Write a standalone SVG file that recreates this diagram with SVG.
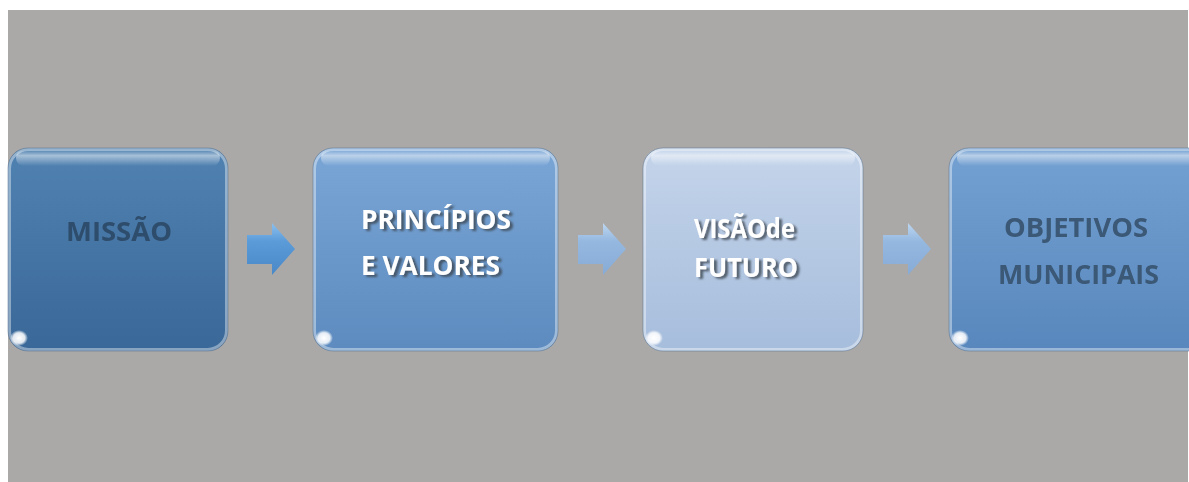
<svg xmlns="http://www.w3.org/2000/svg" width="1189" height="482" viewBox="0 0 1189 482">
<defs>
<style>
.lbl{font-family:"Open Sans","Noto Sans","Liberation Sans",sans-serif;font-weight:bold;font-size:26.5px}
.dark{fill:#2f4d6c}
.dark2{fill:#3b5876}
.wht{fill:#ffffff}
.edge{fill:none;stroke:#ffffff;stroke-opacity:0.4;stroke-width:3}
.outl{fill:none;stroke:#55708c;stroke-opacity:0.5;stroke-width:1}
</style>
<linearGradient id="g1" x1="0" y1="0" x2="0" y2="1">
<stop offset="0" stop-color="#5082b1"/><stop offset="1" stop-color="#3a6898"/>
</linearGradient>
<linearGradient id="g2" x1="0" y1="0" x2="0" y2="1">
<stop offset="0" stop-color="#7aa6d6"/><stop offset="1" stop-color="#5d8bbf"/>
</linearGradient>
<linearGradient id="g3" x1="0" y1="0" x2="0" y2="1">
<stop offset="0" stop-color="#c4d4ea"/><stop offset="1" stop-color="#a6bddc"/>
</linearGradient>
<linearGradient id="g4" x1="0" y1="0" x2="0" y2="1">
<stop offset="0" stop-color="#74a1d2"/><stop offset="1" stop-color="#5887bd"/>
</linearGradient>
<linearGradient id="hl" x1="0" y1="0" x2="0" y2="1">
<stop offset="0" stop-color="#ffffff" stop-opacity="0"/><stop offset="0.35" stop-color="#ffffff" stop-opacity="0.5"/><stop offset="1" stop-color="#ffffff" stop-opacity="0"/>
</linearGradient>
<linearGradient id="ga1" x1="0" y1="0" x2="0" y2="1">
<stop offset="0" stop-color="#8cc0ee"/><stop offset="0.35" stop-color="#5b9bd8"/><stop offset="1" stop-color="#4a88c8"/>
</linearGradient>
<linearGradient id="ga2" x1="0" y1="0" x2="0" y2="1">
<stop offset="0" stop-color="#bdd6f0"/><stop offset="0.35" stop-color="#95b8e0"/><stop offset="1" stop-color="#86abd6"/>
</linearGradient>
<radialGradient id="spot" cx="0.5" cy="0.5" r="0.5">
<stop offset="0" stop-color="#ffffff"/><stop offset="0.65" stop-color="#ffffff" stop-opacity="0.85"/><stop offset="1" stop-color="#ffffff" stop-opacity="0"/>
</radialGradient>
<filter id="sh" x="-10%" y="-40%" width="125%" height="190%">
<feGaussianBlur in="SourceAlpha" stdDeviation="1"/>
<feOffset dx="3" dy="2" result="o"/>
<feFlood flood-color="#3c4650" flood-opacity="0.8"/>
<feComposite in2="o" operator="in"/>
<feMerge><feMergeNode/><feMergeNode in="SourceGraphic"/></feMerge>
</filter>
<filter id="blur05" x="-10%" y="-30%" width="120%" height="160%"><feGaussianBlur stdDeviation="0.5"/></filter>
<path id="arrow" d="M0,12 H25 V0 L48,26 L25,52 V41 H0 Z"/>
</defs>
<rect x="8" y="10" width="1180" height="472" fill="#aaa9a7"/>

<g id="connectors">
<use href="#arrow" x="247" y="223" fill="url(#ga1)"/>
<use href="#arrow" x="578" y="223" fill="url(#ga2)"/>
<use href="#arrow" x="883" y="223" fill="url(#ga2)"/>
</g>

<g id="node-missao">
<rect x="8" y="148" width="220" height="203" rx="20" fill="url(#g1)"/>
<rect x="16" y="150" width="204" height="16" rx="8" fill="url(#hl)"/>
<rect x="9.5" y="149.5" width="217" height="200" rx="19" class="edge"/>
<rect x="8" y="148" width="220" height="203" rx="20" class="outl"/>
<ellipse cx="19" cy="338" rx="9" ry="8" fill="url(#spot)"/>
<text x="66" y="241" textLength="106" lengthAdjust="spacingAndGlyphs" class="lbl dark" filter="url(#blur05)">MISSÃO</text>
</g>

<g id="node-principios">
<rect x="313" y="148" width="245" height="203" rx="20" fill="url(#g2)"/>
<rect x="321" y="150" width="229" height="16" rx="8" fill="url(#hl)"/>
<rect x="314.5" y="149.5" width="242" height="200" rx="19" class="edge"/>
<rect x="313" y="148" width="245" height="203" rx="20" class="outl"/>
<ellipse cx="324" cy="338" rx="9" ry="8" fill="url(#spot)"/>
<text x="361" y="229" textLength="150" lengthAdjust="spacingAndGlyphs" class="lbl wht" filter="url(#sh)">PRINCÍPIOS</text>
<text x="361" y="275" textLength="139" lengthAdjust="spacingAndGlyphs" class="lbl wht" filter="url(#sh)">E VALORES</text>
</g>

<g id="node-visao">
<rect x="643" y="148" width="220" height="203" rx="20" fill="url(#g3)"/>
<rect x="651" y="150" width="204" height="16" rx="8" fill="url(#hl)"/>
<rect x="644.5" y="149.5" width="217" height="200" rx="19" class="edge"/>
<rect x="643" y="148" width="220" height="203" rx="20" class="outl"/>
<ellipse cx="654" cy="338" rx="9" ry="8" fill="url(#spot)"/>
<text x="694" y="238" textLength="101" lengthAdjust="spacingAndGlyphs" class="lbl wht" filter="url(#sh)">VISÃOde</text>
<text x="694" y="277" textLength="104" lengthAdjust="spacingAndGlyphs" class="lbl wht" filter="url(#sh)">FUTURO</text>
</g>

<g id="node-objetivos">
<rect x="949" y="148" width="262" height="203" rx="20" fill="url(#g4)"/>
<rect x="957" y="150" width="246" height="16" rx="8" fill="url(#hl)"/>
<rect x="950.5" y="149.5" width="259" height="200" rx="19" class="edge"/>
<rect x="949" y="148" width="262" height="203" rx="20" class="outl"/>
<ellipse cx="960" cy="338" rx="9" ry="8" fill="url(#spot)"/>
<text x="1004" y="237" textLength="144" lengthAdjust="spacingAndGlyphs" class="lbl dark2" filter="url(#blur05)">OBJETIVOS</text>
<text x="998" y="284" textLength="161" lengthAdjust="spacingAndGlyphs" class="lbl dark2" filter="url(#blur05)">MUNICIPAIS</text>
</g>
</svg>
